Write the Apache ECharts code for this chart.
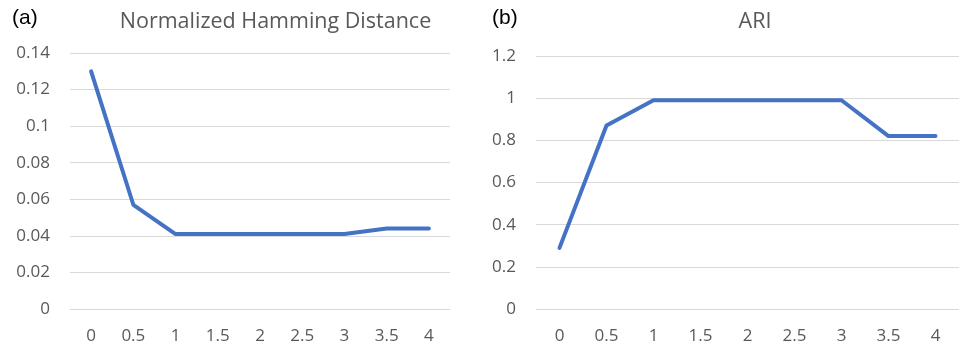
<!DOCTYPE html>
<html><head><meta charset="utf-8">
<script src="https://cdn.jsdelivr.net/npm/echarts@6/dist/echarts.min.js"></script>
<style>html,body{margin:0;padding:0;background:#fff}#c{width:959px;height:349px}</style>
</head><body><div id="c"></div>
<script>
const categories = ['0','0.5','1','1.5','2','2.5','3','3.5','4'];
const hammingValues = [0.13, 0.057, 0.041, 0.041, 0.041, 0.041, 0.041, 0.044, 0.044];
const ariValues = [0.29, 0.87, 0.99, 0.99, 0.99, 0.99, 0.99, 0.82, 0.82];
const titleA = 'Normalized Hamming Distance';
const titleB = 'ARI';
const panelA = '(a)';
const panelB = '(b)';

const FONT = 'Open Sans';
const GREY = '#595959';
const chart = echarts.init(document.getElementById('c'), null, {renderer: 'canvas'});
function xAxis(gi){
  return {type:'category', gridIndex:gi, data:categories, boundaryGap:true,
    axisLine:{show:true, lineStyle:{color:'#d9d9d9'}}, axisTick:{show:false},
    axisLabel:{color:GREY, fontFamily:FONT, fontSize:17, margin:19}};
}
function yAxis(gi, max, interval, fmt){
  return {type:'value', gridIndex:gi, min:0, max:max, interval:interval,
    axisLine:{show:false}, axisTick:{show:false},
    splitLine:{lineStyle:{color:'#d9d9d9', width:1}},
    axisLabel:{color:GREY, fontFamily:FONT, fontSize:17, margin:20, formatter:fmt}};
}
chart.setOption({
  animation:false,
  grid:[
    {left:70, top:53, width:380, height:256},
    {left:536, top:56, width:430, height:253}
  ],
  xAxis:[xAxis(0), xAxis(1)],
  yAxis:[yAxis(0, 0.14, 0.02, v=>String(+v.toFixed(2))), yAxis(1, 1.2, 0.2, v=>String(+v.toFixed(1)))],
  series:[
    {type:'line', xAxisIndex:0, yAxisIndex:0, data:hammingValues, showSymbol:false, symbol:'none',
      lineStyle:{color:'#4472C4', width:4, cap:'round', join:'round'}},
    {type:'line', xAxisIndex:1, yAxisIndex:1, data:ariValues, showSymbol:false, symbol:'none',
      lineStyle:{color:'#4472C4', width:4, cap:'round', join:'round'}}
  ],
  graphic:[
    {type:'text', x:12, y:18, style:{text:panelA, fill:'#000', font:'21px "Liberation Sans"', verticalAlign:'middle'}},
    {type:'text', x:492, y:18, style:{text:panelB, fill:'#000', font:'21px "Liberation Sans"', verticalAlign:'middle'}},
    {type:'text', x:275.5, y:22, style:{text:titleA, fill:GREY, font:'21.5px "'+FONT+'"', align:'center', verticalAlign:'middle'}},
    {type:'text', x:755, y:22, style:{text:titleB, fill:GREY, font:'21.5px "'+FONT+'"', align:'center', verticalAlign:'middle'}}
  ]
});
</script></body></html>
